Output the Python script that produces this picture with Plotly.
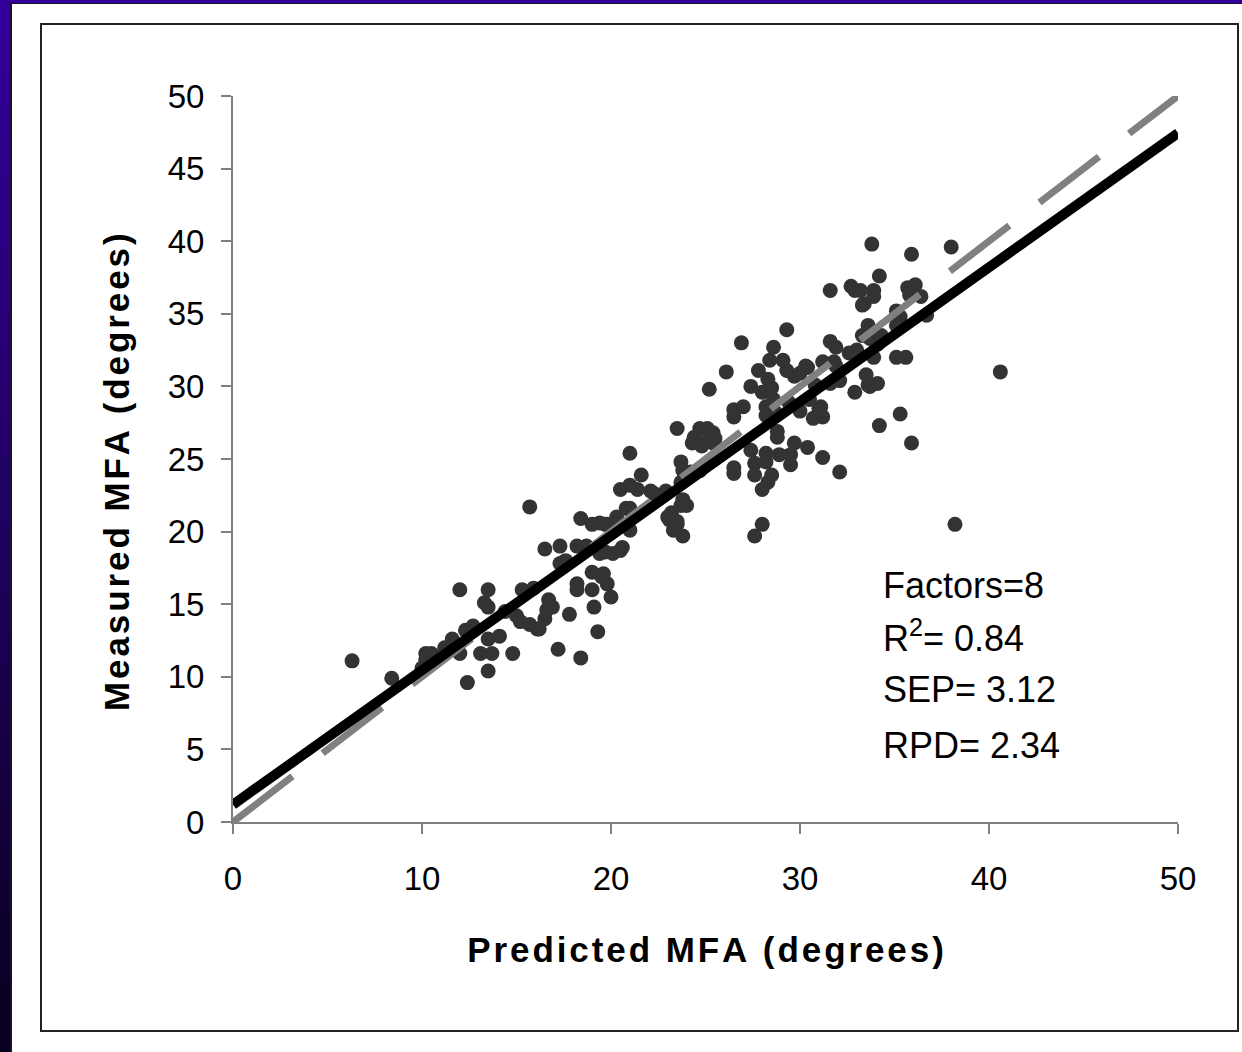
import plotly.graph_objects as go

# ---------------- data ----------------
pred = [
    6.3, 8.4, 10.2, 10.5, 10.2, 12.0, 13.5, 13.3, 13.5, 11.6, 12.0, 12.3, 12.7, 12.4, 13.1, 13.7,
    13.5, 14.1, 13.5, 14.8, 15.3, 15.9, 16.7, 16.9, 16.5, 15.2, 15.7, 16.1, 17.2, 17.3,
    10.0, 11.2, 14.4, 15.0,
    23.5, 25.1, 25.4, 24.4, 24.3, 24.8, 21.0, 23.7, 23.8, 21.6, 20.5, 21.0, 21.4, 22.1, 22.9, 23.8,
    24.0, 23.0, 23.5, 23.8, 23.3, 21.0, 20.3, 19.8, 18.4, 19.0, 21.0, 20.6, 20.1, 16.5, 17.3, 18.2,
    18.7, 17.6, 19.0, 19.5, 19.8, 20.0, 18.2, 18.2, 19.0, 16.6, 16.2, 17.8, 19.1, 19.3, 18.4,
    15.7, 21.0, 19.7, 19.7, 20.5,
    24.7, 25.2, 25.5, 24.2, 24.7, 23.7, 19.4, 20.8, 22.3, 23.2, 23.1, 23.5, 23.7, 19.4, 19.6,
    32.6, 33.0, 31.8, 31.9, 32.1, 31.6,
    29.3, 26.9, 28.6, 28.4, 29.1, 26.1, 27.8, 28.3, 29.3, 29.7, 30.4, 31.2, 31.6, 31.9,
    25.2, 27.4, 28.0, 28.5, 28.6, 28.2, 28.2, 28.7, 29.4, 30.0, 30.5, 31.1, 31.2, 30.7,
    26.5, 27.0, 26.5, 24.9, 25.4, 28.8, 28.8, 29.7, 30.4, 31.2, 32.1, 27.4, 28.2, 28.2,
    28.9, 29.5, 29.5, 27.6, 27.6, 26.5, 26.5, 28.5, 28.3, 28.0, 28.0, 27.6,
    32.9, 33.5, 33.7, 34.1, 33.3, 33.6, 33.3, 33.7, 34.1, 34.2,
    31.6, 32.7, 32.9, 30.3, 30.0, 30.8, 31.0,
    33.8, 35.9, 38.0, 34.2, 33.9, 33.9, 33.4, 33.2, 35.7, 36.1, 36.4, 35.8, 35.1, 35.3, 36.7,
    35.1, 33.9, 34.3, 33.9, 35.1, 35.6, 33.6, 35.3, 35.9, 40.6, 38.2,
]
measured = [
    11.1, 9.9, 11.6, 11.6, 11.2, 16.0, 16.0, 15.1, 14.8, 12.6, 11.6, 13.2, 13.5, 9.6, 11.6, 11.6,
    10.4, 12.8, 12.6, 11.6, 16.0, 16.1, 15.3, 14.8, 14.0, 13.8, 13.6, 13.3, 11.9, 17.8,
    10.6, 12.0, 14.5, 14.2,
    27.1, 27.1, 26.8, 26.5, 26.1, 25.9, 25.4, 24.8, 24.2, 23.9, 22.9, 23.2, 22.9, 22.8, 22.8, 22.2,
    21.8, 21.0, 20.5, 19.7, 20.1, 21.6, 21.0, 20.5, 20.9, 20.5, 20.1, 18.9, 18.5, 18.8, 19.0, 19.0,
    19.0, 18.0, 17.2, 16.9, 16.4, 15.5, 16.4, 16.0, 16.0, 14.6, 13.3, 14.3, 14.8, 13.1, 11.3,
    21.7, 21.5, 20.5, 18.6, 18.7,
    27.1, 26.8, 26.4, 24.1, 24.2, 23.4, 20.6, 21.6, 22.6, 21.3, 20.8, 20.7, 21.8, 18.5, 17.1,
    32.3, 32.5, 31.7, 31.4, 30.4, 30.2,
    33.9, 33.0, 32.7, 31.8, 31.8, 31.0, 31.1, 30.5, 31.1, 30.7, 31.3, 31.7, 33.1, 32.7,
    29.8, 30.0, 29.6, 29.9, 29.1, 28.6, 28.0, 28.2, 28.9, 28.3, 29.1, 28.6, 27.9, 27.8,
    28.4, 28.6, 27.9, 26.1, 26.1, 26.9, 26.5, 26.1, 25.8, 25.1, 24.1, 25.6, 25.4, 24.8,
    25.3, 25.3, 24.6, 24.7, 23.9, 24.4, 24.0, 23.9, 23.4, 22.9, 20.5, 19.7,
    29.6, 30.8, 30.0, 30.2, 35.6, 34.2, 33.5, 33.3, 32.9, 27.3,
    36.6, 36.9, 36.6, 31.4, 30.9, 30.1, 28.5,
    39.8, 39.1, 39.6, 37.6, 36.6, 36.2, 35.7, 36.6, 36.8, 37.0, 36.2, 36.3, 35.2, 34.8, 34.9,
    34.2, 33.2, 33.5, 32.0, 32.0, 32.0, 30.1, 28.1, 26.1, 31.0, 20.5,
]

# regression line (measured vs predicted) and 1:1 line
fit_x = [0, 50]
fit_y = [1.2, 47.45]
one_x = [0, 50]
one_y = [0, 50]

x_ticks = [0, 10, 20, 30, 40, 50]
y_ticks = [0, 5, 10, 15, 20, 25, 30, 35, 40, 45, 50]

x_title = "Predicted MFA (degrees)"
y_title = "Measured MFA (degrees)"

stats_lines = ["Factors=8", "R<sup>2</sup>= 0.84", "SEP= 3.12", "RPD= 2.34"]
stats_y = [16.3, 12.8, 9.1, 5.3]
stats_x = 34.3

FONT = "Arial, Liberation Sans, sans-serif"
HAIR = "\u200a"


def spaced(s):
    return "<b>" + HAIR.join(list(s)) + "</b>"


fig = go.Figure()

fig.add_trace(go.Scatter(
    x=pred, y=measured, mode="markers",
    marker=dict(size=15, color="#333333", line=dict(width=0)),
    showlegend=False, hoverinfo="skip",
))
fig.add_trace(go.Scatter(
    x=one_x, y=one_y, mode="lines",
    line=dict(color="#808080", width=7, dash="75px,38px"),
    showlegend=False, hoverinfo="skip",
))
fig.add_trace(go.Scatter(
    x=fit_x, y=fit_y, mode="lines",
    line=dict(color="#000000", width=10),
    showlegend=False, hoverinfo="skip",
))

for txt, yy in zip(stats_lines, stats_y):
    fig.add_annotation(
        x=stats_x, y=yy, xref="x", yref="y", text=txt, showarrow=False,
        xanchor="left", yanchor="middle",
        font=dict(family=FONT, size=36, color="#000000"),
    )

# ----- decorative frame (slide background) -----
L, R, T, B = 233, 64, 96, 230
PW, PH = 1242 - L - R, 1052 - T - B


def px_x(p):
    return (p - L) / PW


def px_y(p):
    return (1052 - B - p) / PH


# y-axis title placed as a rotated annotation
fig.add_annotation(
    x=px_x(116), y=px_y(472), xref="paper", yref="paper", text=spaced(y_title),
    showarrow=False, textangle=-90, xanchor="center", yanchor="middle",
    font=dict(family=FONT, size=35, color="#000000"),
)

shapes = []
n = 30
c0 = (52, 0, 156)
c1 = (10, 0, 32)
for i in range(n):
    t = i / (n - 1)
    col = "rgb(%d,%d,%d)" % tuple(round(a + (b - a) * t) for a, b in zip(c0, c1))
    y0p = i * 1052 / n
    y1p = (i + 1) * 1052 / n + 1
    shapes.append(dict(type="rect", xref="paper", yref="paper",
                       x0=px_x(0), x1=px_x(10), y0=px_y(y1p), y1=px_y(y0p),
                       fillcolor=col, line=dict(width=0), layer="above"))
shapes.append(dict(type="rect", xref="paper", yref="paper",
                   x0=px_x(10), x1=px_x(12), y0=px_y(1052), y1=px_y(3),
                   fillcolor="#1a1030", line=dict(width=0), layer="above"))
shapes.append(dict(type="rect", xref="paper", yref="paper",
                   x0=px_x(0), x1=px_x(1242), y0=px_y(3), y1=px_y(0),
                   fillcolor="#34009c", line=dict(width=0), layer="above"))
shapes.append(dict(type="rect", xref="paper", yref="paper",
                   x0=px_x(10), x1=px_x(1242), y0=px_y(4), y1=px_y(3),
                   fillcolor="#1a1030", line=dict(width=0), layer="above"))
shapes.append(dict(type="rect", xref="paper", yref="paper",
                   x0=px_x(41), x1=px_x(1238), y0=px_y(1031), y1=px_y(24),
                   fillcolor="rgba(0,0,0,0)", line=dict(color="#222222", width=2),
                   layer="below"))

fig.update_layout(
    width=1242, height=1052,
    margin=dict(l=L, r=R, t=T, b=B, pad=0),
    paper_bgcolor="#ffffff", plot_bgcolor="#ffffff",
    shapes=shapes,
    font=dict(family=FONT, color="#000000"),
    xaxis=dict(
        range=[0, 50], tickvals=x_ticks, ticktext=[str(v) for v in x_ticks],
        showgrid=False, zeroline=False, showline=True, linecolor="#808080", linewidth=2,
        ticks="outside", ticklen=10, tickwidth=2, tickcolor="#808080",
        tickfont=dict(family=FONT, size=33, color="#000000"),
        ticklabelstandoff=16,
        title=dict(text=spaced(x_title), standoff=42,
                   font=dict(family=FONT, size=35, color="#000000")),
    ),
    yaxis=dict(
        range=[0, 50], tickvals=y_ticks, ticktext=[str(v) for v in y_ticks],
        showgrid=False, zeroline=False, showline=True, linecolor="#808080", linewidth=2,
        ticks="outside", ticklen=10, tickwidth=2, tickcolor="#808080",
        tickfont=dict(family=FONT, size=33, color="#000000"),
        ticklabelstandoff=10,
    ),
)

fig.write_html("out.html")
